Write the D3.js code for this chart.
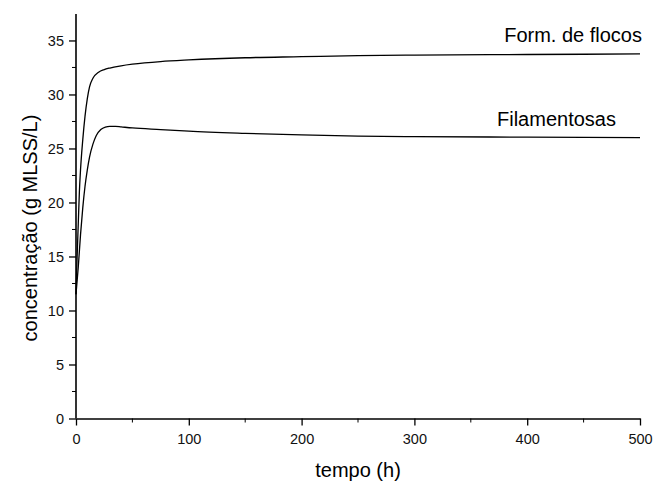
<!DOCTYPE html>
<html>
<head>
<meta charset="utf-8">
<script src="https://cdn.jsdelivr.net/npm/d3@7"></script>
<style>
  body { margin: 0; background: #fff; }
  svg { display: block; font-family: "Liberation Sans", Arial, sans-serif; }
</style>
</head>
<body>
<div id="chart"></div>
<script>
// tempo (h)
var flocosT = [0, 1, 2, 3, 4, 6, 8, 10, 12, 15, 20, 25, 30, 40, 50, 75, 100, 150, 200, 250, 300, 400, 500];
var flocosV = [11.5, 15, 18, 21, 23, 25.8, 28, 29.6, 30.7, 31.5, 32.05, 32.3, 32.45, 32.65, 32.8, 33.05, 33.2, 33.4, 33.5, 33.6, 33.65, 33.7, 33.75];

var filT = [0, 2, 4, 6, 8, 10, 12, 15, 18, 22, 26, 30, 35, 40, 50, 75, 100, 150, 200, 250, 300, 400, 500];
var filV = [11.5, 14, 17, 19.5, 21.5, 23, 24.2, 25.4, 26.2, 26.75, 26.98, 27.05, 27.05, 27.0, 26.9, 26.75, 26.6, 26.4, 26.25, 26.15, 26.1, 26.05, 26.0];

var xTicks = [0, 100, 200, 300, 400, 500];
var yTicks = [0, 5, 10, 15, 20, 25, 30, 35];

var seriesNames = ["Form. de flocos", "Filamentosas"];

var width = 655, height = 482;
var margin = { top: 14, left: 76, right: 15, bottom: 63.5 };

var svg = d3.select("#chart").append("svg")
    .attr("width", width)
    .attr("height", height);

var x = d3.scaleLinear().domain([0, 500]).range([margin.left, width - margin.right]);
var y = d3.scaleLinear().domain([0, 37.45]).range([height - margin.bottom, margin.top]);

/* axes */
var xAxis = svg.append("g")
    .attr("transform", "translate(0," + y(0) + ")")
    .call(d3.axisBottom(x).tickValues(xTicks).tickSize(7).tickSizeOuter(0).tickPadding(8));

// minor ticks
xAxis.append("g").selectAll("line")
    .data(d3.range(50, 500, 100))
    .enter().append("line")
    .attr("x1", function(d) { return x(d); })
    .attr("x2", function(d) { return x(d); })
    .attr("y1", 0).attr("y2", 4)
    .attr("stroke", "#000");

var yAxis = svg.append("g")
    .attr("transform", "translate(" + x(0) + ",0)")
    .call(d3.axisLeft(y).tickValues(yTicks).tickSize(7).tickSizeOuter(0).tickPadding(5));

yAxis.append("g").selectAll("line")
    .data(d3.range(2.5, 37.5, 5))
    .enter().append("line")
    .attr("y1", function(d) { return y(d); })
    .attr("y2", function(d) { return y(d); })
    .attr("x1", 0).attr("x2", -4)
    .attr("stroke", "#000");

// y axis runs to the top of the frame
yAxis.select(".domain").attr("d", "M0," + y(0) + "V" + margin.top);

svg.selectAll(".domain").attr("stroke-width", 1.6);
svg.selectAll(".tick line").attr("stroke-width", 1.3);
svg.selectAll(".tick text")
    .attr("font-size", "14.5px")
    .attr("fill", "#111")
    .attr("font-family", "Liberation Sans, Arial, sans-serif");

/* axis titles */
svg.append("text")
    .attr("x", (x(0) + x(500)) / 2)
    .attr("y", 477)
    .attr("text-anchor", "middle")
    .attr("font-size", "20px")
    .text("tempo (h)");

svg.append("text")
    .attr("transform", "translate(37,228) rotate(-90)")
    .attr("text-anchor", "middle")
    .attr("font-size", "20px")
    .text("concentração (g MLSS/L)");

/* curves */
var line = d3.line()
    .x(function(d) { return x(d[0]); })
    .y(function(d) { return y(d[1]); })
    .curve(d3.curveMonotoneX);

var series = [
    d3.zip(flocosT, flocosV),
    d3.zip(filT, filV)
];

svg.append("g")
    .selectAll("path")
    .data(series)
    .enter().append("path")
    .attr("d", line)
    .attr("fill", "none")
    .attr("stroke", "#000")
    .attr("stroke-width", 1.3);

/* labels at the right end */
svg.append("text")
    .attr("x", 642)
    .attr("y", 42)
    .attr("text-anchor", "end")
    .attr("font-size", "20px")
    .text(seriesNames[0]);

svg.append("text")
    .attr("x", 497)
    .attr("y", 126)
    .attr("font-size", "20px")
    .text(seriesNames[1]);
</script>
</body>
</html>
